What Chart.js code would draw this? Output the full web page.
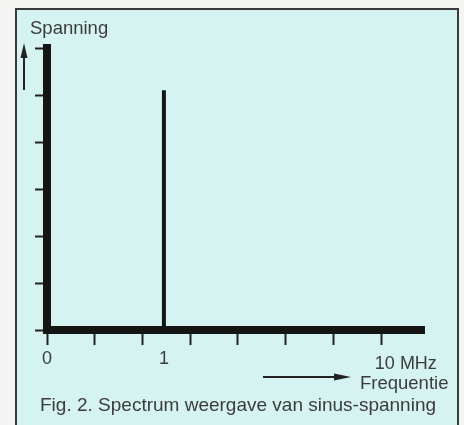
<!DOCTYPE html>
<html>
<head>
<meta charset="utf-8">
<script src="https://cdn.jsdelivr.net/npm/chart.js@4"></script>
<style>
  body { margin: 0; background: #f4f5f2; }
  #wrap { position: relative; width: 464px; height: 425px; overflow: hidden; }
  #frame { position: absolute; left: 15px; top: 8px; width: 440px; height: 430px;
           border: 2px solid #3a3a3a; background: #d5f3f0; }
  canvas { position: absolute; left: 0; top: 0; }
  .txt { position: absolute; font-family: Arial, "Liberation Sans", sans-serif;
         color: #3c3c3c; line-height: 1; white-space: nowrap; }
</style>
</head>
<body>
<div id="wrap">
  <div id="frame"></div>
  <canvas id="chart" width="464" height="425"></canvas>
  <div class="txt" style="left:30px; top:19px; font-size:18.5px;">Spanning</div>
  <div class="txt" style="left:360px; top:374px; font-size:18.5px;">Frequentie</div>
  <div class="txt" style="left:40px; top:395px; font-size:19px;">Fig. 2. Spectrum weergave van sinus-spanning</div>
</div>
<script>
// x in axis divisions (schematic frequency axis), y in divisions of "Spanning"
const xTickMarks = [0, 1, 2, 3, 4, 5, 6, 7];
const xLabelPositions = [0, 2.45, 7.52];
const xLabelTexts = ['0', '1', '10 MHz'];
const yTickMarks = [0, 1, 2, 3, 4, 5, 6];
const spikeX = [2.45, 2.45];
const spikeY = [0, 5.1];

const allTicks = [...new Set([...xTickMarks, ...xLabelPositions])].sort((a, b) => a - b);

function labelFor(v) {
    const i = xLabelPositions.indexOf(v);
    return i >= 0 ? xLabelTexts[i] : '';
}

const arrows = {
    id: 'arrows',
    afterDraw(chart) {
        const c = chart.ctx;
        c.save();
        c.strokeStyle = '#222';
        c.fillStyle = '#222';
        c.lineWidth = 2;
        // up arrow next to "Spanning"
        c.beginPath(); c.moveTo(24, 90); c.lineTo(24, 55); c.stroke();
        c.beginPath(); c.moveTo(24, 43); c.lineTo(20.5, 58); c.lineTo(27.5, 58); c.closePath(); c.fill();
        // right arrow before "Frequentie"
        c.beginPath(); c.moveTo(263, 377); c.lineTo(338, 377); c.stroke();
        c.beginPath(); c.moveTo(351, 377); c.lineTo(334, 373.5); c.lineTo(334, 380.5); c.closePath(); c.fill();
        c.restore();
    }
};

const ctx = document.getElementById('chart').getContext('2d');
new Chart(ctx, {
    type: 'line',
    data: {
        datasets: [{
            data: spikeX.map((x, i) => ({x: x, y: spikeY[i]})),
            borderColor: '#151515',
            borderWidth: 4,
            pointRadius: 0,
            borderCapStyle: 'butt'
        }]
    },
    options: {
        responsive: false,
        animation: false,
        layout: {
            padding: {left: 35, top: 48, right: 40, bottom: 0}
        },
        plugins: {
            legend: {display: false},
            tooltip: {enabled: false}
        },
        scales: {
            x: {
                type: 'linear',
                min: 0,
                max: 7.9,
                afterBuildTicks: (scale) => {
                    scale.ticks = allTicks.map(v => ({value: v}));
                },
                afterFit: (scale) => { scale.height = 95; },
                border: {display: true, width: 8, color: '#151515'},
                grid: {
                    drawOnChartArea: false,
                    tickLength: 15,
                    tickWidth: 2,
                    tickColor: (c) => xTickMarks.includes(c.tick && c.tick.value) ? '#222' : 'transparent'
                },
                ticks: {
                    autoSkip: false,
                    maxRotation: 0,
                    padding: 3,
                    color: '#3c3c3c',
                    font: (c) => ({
                        family: 'Arial, "Liberation Sans", sans-serif',
                        size: 18,
                        lineHeight: (c.tick && c.tick.value === 7.52) ? 1.75 : 1.2
                    }),
                    callback: (v) => labelFor(v)
                }
            },
            y: {
                type: 'linear',
                min: 0,
                max: 6,
                afterBuildTicks: (scale) => {
                    scale.ticks = yTickMarks.map(v => ({value: v}));
                },
                afterFit: (scale) => { scale.width = 12; },
                border: {display: true, width: 8, color: '#151515'},
                grid: {
                    drawOnChartArea: false,
                    tickLength: 12,
                    tickWidth: 2,
                    tickColor: '#222'
                },
                ticks: {display: false}
            }
        }
    },
    plugins: [arrows]
});
</script>
</body>
</html>
